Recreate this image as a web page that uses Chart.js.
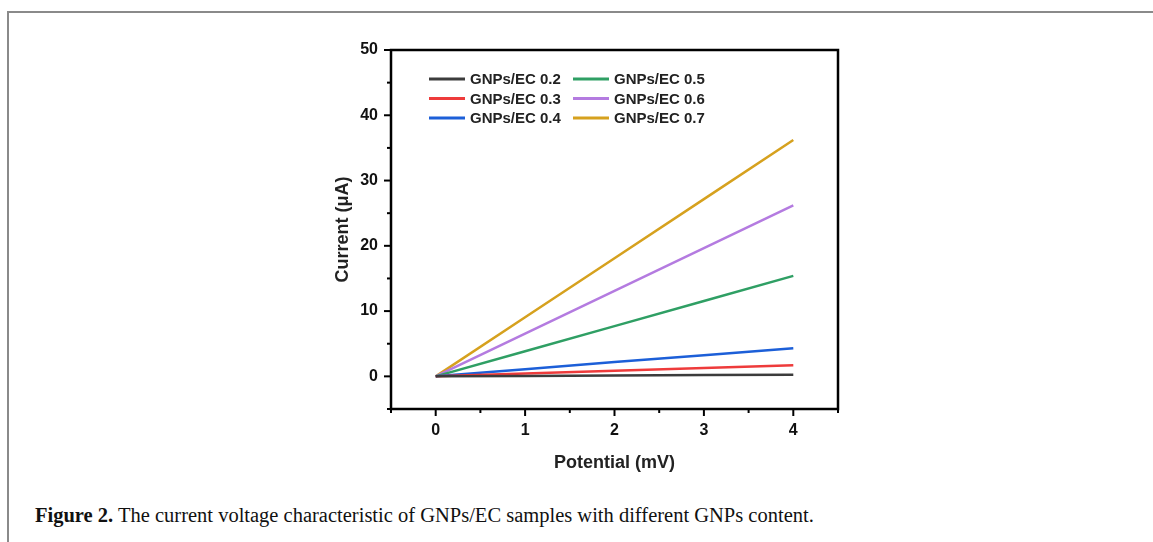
<!DOCTYPE html>
<html>
<head>
<meta charset="utf-8">
<script src="https://cdn.jsdelivr.net/npm/chart.js@4.4.1/dist/chart.umd.min.js"></script>
<style>
  html, body { margin: 0; padding: 0; background: #fff; }
  body { width: 1153px; height: 542px; position: relative; overflow: hidden; }
  .frame { position: absolute; left: 7px; top: 11px; right: -10px; bottom: -10px;
           border-top: 2px solid #8a8a8a; border-left: 2px solid #8a8a8a; }
  .caption { position: absolute; left: 35px; top: 505px; font-family: "Liberation Serif", serif;
             font-size: 20.5px; line-height: 20.5px; color: #111; white-space: nowrap; }
  .caption b { font-weight: bold; }
  #chart { position: absolute; left: 0; top: 0; }
</style>
</head>
<body>
<div class="frame"></div>
<div class="caption"><b>Figure 2.</b> The current voltage characteristic of GNPs/EC samples with different GNPs content.</div>
<canvas id="chart" width="1153" height="542"></canvas>
<script>
// ── Data ────────────────────────────────────────────────────────────────────
const potential = [0, 1, 2, 3, 4];
const seriesNames  = ['GNPs/EC 0.2', 'GNPs/EC 0.3', 'GNPs/EC 0.4', 'GNPs/EC 0.5', 'GNPs/EC 0.6', 'GNPs/EC 0.7'];
const seriesColors = ['#3c3c3c', '#ee3b3b', '#1c5fd8', '#2f9f64', '#b47be0', '#d6a11e'];
const current02 = [0, 0.06, 0.13, 0.20, 0.26];
const current03 = [0, 0.42, 0.85, 1.28, 1.7];
const current04 = [0, 1.1, 2.2, 3.25, 4.3];
const current05 = [0, 3.85, 7.7, 11.55, 15.4];
const current06 = [0, 6.55, 13.1, 19.65, 26.2];
const current07 = [0, 9.05, 18.1, 27.15, 36.2];
const seriesValues = [current02, current03, current04, current05, current06, current07];
const xTicks = [0, 1, 2, 3, 4];
const yTicks = [0, 10, 20, 30, 40, 50];

const FONT = '"Liberation Sans", Arial, sans-serif';

const datasets = seriesNames.map((name, i) => ({
    label:       name,
    data:        potential.map((x, j) => ({ x, y: seriesValues[i][j] })),
    borderColor: seriesColors[i],
    borderWidth: 2.5,
    pointRadius: 0,
    showLine:    true,
    fill:        false
}));

// ── Plugins: frame, tick marks, legend ──────────────────────────────────────
const framePlugin = {
    id: 'frame',
    afterDatasetsDraw(chart) {
        const { ctx, chartArea: a, scales } = chart;
        ctx.save();
        ctx.strokeStyle = '#000';
        ctx.lineWidth = 2.5;
        ctx.lineCap = 'square';
        ctx.strokeRect(a.left, a.top, a.right - a.left, a.bottom - a.top);

        ctx.lineWidth = 2;
        ctx.lineCap = 'butt';
        scales.x.ticks.forEach(t => {
            const px = scales.x.getPixelForValue(t.value);
            const len = Number.isInteger(t.value) ? 7 : 4;
            ctx.beginPath(); ctx.moveTo(px, a.bottom); ctx.lineTo(px, a.bottom + len); ctx.stroke();
        });
        scales.y.ticks.forEach(t => {
            const py = scales.y.getPixelForValue(t.value);
            const len = t.value % 10 === 0 ? 7 : 4;
            ctx.beginPath(); ctx.moveTo(a.left, py); ctx.lineTo(a.left - len, py); ctx.stroke();
        });
        ctx.restore();
    }
};

const legendPlugin = {
    id: 'insideLegend',
    afterDatasetsDraw(chart) {
        const { ctx } = chart;
        const cols = [429, 573];
        const rows = [79, 98.5, 118];
        ctx.save();
        ctx.font = 'bold 15px ' + FONT;
        ctx.textBaseline = 'middle';
        ctx.fillStyle = '#222';
        chart.data.datasets.forEach((ds, i) => {
            const cx = cols[Math.floor(i / 3)];
            const cy = rows[i % 3];
            ctx.strokeStyle = ds.borderColor;
            ctx.lineWidth = 3;
            ctx.beginPath(); ctx.moveTo(cx, cy); ctx.lineTo(cx + 36, cy); ctx.stroke();
            ctx.fillText(ds.label, cx + 41, cy + 1);
        });
        ctx.restore();
    }
};

// ── Chart ───────────────────────────────────────────────────────────────────
new Chart(document.getElementById('chart'), {
    type: 'scatter',
    data: { datasets },
    options: {
        responsive: false,
        animation:  false,
        events:     [],
        layout: { padding: { left: 330, right: 315, top: 50, bottom: 68 } },
        scales: {
            x: {
                type: 'linear',
                min: -0.5, max: 4.5,
                afterFit(s) { s.height = 65; },
                border: { display: false },
                grid:   { display: false, drawTicks: false },
                ticks: {
                    stepSize: 0.5,
                    padding: 12,
                    color: '#111',
                    font: { family: FONT, size: 16, weight: 'bold' },
                    callback: v => xTicks.includes(v) ? String(v) : ''
                },
                title: {
                    display: true, text: 'Potential (mV)', color: '#222',
                    font: { family: FONT, size: 18, weight: 'bold' },
                    padding: { top: 0, bottom: 0 }
                }
            },
            y: {
                min: -5, max: 50,
                afterFit(s) { s.width = 61; },
                border: { display: false },
                grid:   { display: false, drawTicks: false },
                ticks: {
                    stepSize: 5,
                    padding: 13,
                    color: '#111',
                    font: { family: FONT, size: 16, weight: 'bold' },
                    callback: v => yTicks.includes(v) ? String(v) : ''
                },
                title: {
                    display: true, text: 'Current (\u03bcA)', color: '#222',
                    font: { family: FONT, size: 18, weight: 'bold' },
                    padding: { top: 2, bottom: 0 }
                }
            }
        },
        plugins: {
            legend:  { display: false },
            tooltip: { enabled: false }
        }
    },
    plugins: [framePlugin, legendPlugin]
});
</script>
</body>
</html>
